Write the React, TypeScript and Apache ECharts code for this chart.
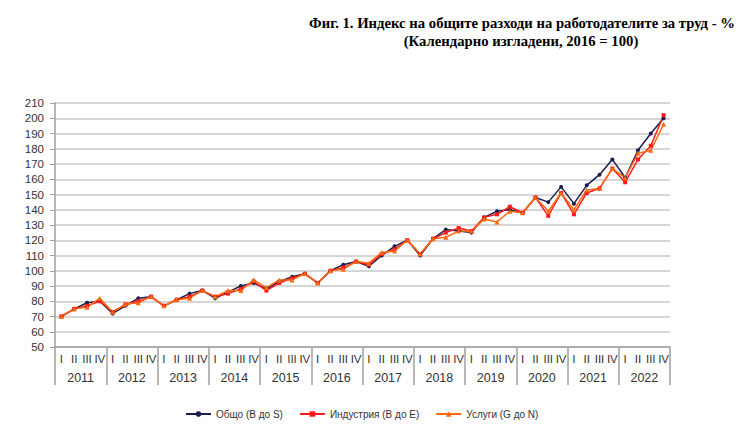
import React, { useEffect, useRef } from "react";
import * as echarts from "echarts";

const years = ["2011", "2012", "2013", "2014", "2015", "2016", "2017", "2018", "2019", "2020", "2021", "2022"];
const quarterNames = ["I", "II", "III", "IV"];
const quarters: string[] = years.flatMap((y) => quarterNames.map((q) => q));

const totalValues = [
  70, 75, 79, 80,
  72, 77, 82, 83,
  77, 81, 85, 87,
  82, 86, 90, 92,
  88, 93, 96, 98,
  92, 100, 104, 106,
  103, 110, 116, 120,
  110, 121, 127, 126,
  125, 135, 139, 140,
  138, 148, 145, 155,
  144, 156, 163, 173,
  161, 179, 190, 200,
];

const industryValues = [
  70, 75, 77, 80,
  73, 78, 80, 83,
  77, 81, 83, 87,
  83, 85, 88, 93,
  87, 92, 95, 98,
  92, 100, 102, 106,
  104, 111, 114, 120,
  111, 121, 125, 128,
  126, 135, 137, 142,
  138, 148, 136, 151,
  137, 151, 154, 167,
  158, 173, 182, 202,
];

const servicesValues = [
  70, 75, 76, 82,
  73, 78, 79, 83,
  77, 81, 82, 87,
  83, 87, 87, 94,
  89, 94, 94, 98,
  92, 100, 101, 106,
  105, 112, 113, 120,
  111, 121, 122, 126,
  126, 134, 132, 139,
  138, 148, 139, 151,
  140, 153, 154, 167,
  161, 177, 179, 196,
];

const seriesNames = ["Общо (B до S)", "Индустрия (B до E)", "Услуги (G до N)"];
const titleLines = [
  "Фиг. 1. Индекс на общите разходи на работодателите за труд - %",
  "(Календарно изгладени, 2016 = 100)",
];

export default function App() {
  const ref = useRef<HTMLDivElement>(null);

  useEffect(() => {
    if (!ref.current) return;
    const chart = echarts.init(ref.current, null, { renderer: "svg" });
    const font = "Liberation Sans, Arial, sans-serif";
    const titleFont = 'bold 14.7px "Liberation Serif", "Times New Roman", serif';
    chart.setOption({
      animation: false,
      backgroundColor: "#ffffff",
      textStyle: { fontFamily: font },
      graphic: [
        {
          type: "text",
          x: 522,
          y: 23,
          style: { text: titleLines[0], align: "center", verticalAlign: "middle", font: titleFont, fill: "#000" },
        },
        {
          type: "text",
          x: 521,
          y: 41,
          style: { text: titleLines[1], align: "center", verticalAlign: "middle", font: titleFont, fill: "#000" },
        },
      ],
      legend: {
        left: 180,
        top: 404,
        itemWidth: 25,
        itemHeight: 7,
        itemGap: 16,
        textStyle: { fontSize: 10, color: "#333", fontFamily: font },
        data: seriesNames,
      },
      grid: { left: 55, right: 70, top: 103, bottom: 80, containLabel: false },
      xAxis: [
        {
          type: "category",
          data: quarters,
          boundaryGap: true,
          axisLine: { show: true, lineStyle: { color: "#a0a0a0", width: 1.5 } },
          axisTick: { show: false },
          axisLabel: { interval: 0, fontSize: 11.5, color: "#333", margin: 6, fontFamily: font },
          splitLine: { show: false },
        },
        {
          type: "category",
          data: years,
          position: "bottom",
          boundaryGap: true,
          axisLine: { show: false },
          axisTick: { show: true, length: 38, lineStyle: { color: "#a0a0a0", width: 1.5 } },
          axisLabel: { interval: 0, fontSize: 12.5, color: "#333", margin: 24, fontFamily: font },
          splitLine: { show: false },
        },
      ],
      yAxis: {
        type: "value",
        min: 50,
        max: 210,
        interval: 10,
        axisLine: { show: true, lineStyle: { color: "#a0a0a0", width: 1.5 } },
        axisTick: { show: true, length: 5, lineStyle: { color: "#a0a0a0" } },
        axisLabel: { fontSize: 11.5, color: "#333", margin: 11, fontFamily: font },
        splitLine: { show: true, lineStyle: { color: "#c8c8c8", width: 1.5 } },
      },
      series: [
        {
          name: seriesNames[0],
          type: "line",
          data: totalValues,
          symbol: "circle",
          symbolSize: 4,
          lineStyle: { color: "#1c1c50", width: 1.5 },
          itemStyle: { color: "#1c1c50" },
        },
        {
          name: seriesNames[1],
          type: "line",
          data: industryValues,
          symbol: "rect",
          symbolSize: 4,
          lineStyle: { color: "#ff1a1a", width: 1.5 },
          itemStyle: { color: "#ff1a1a" },
        },
        {
          name: seriesNames[2],
          type: "line",
          data: servicesValues,
          symbol: "triangle",
          symbolSize: 5,
          lineStyle: { color: "#ff6a10", width: 1.5 },
          itemStyle: { color: "#ff6a10" },
        },
      ],
    });
    return () => chart.dispose();
  }, []);

  return <div ref={ref} style={{ position: "fixed", left: 0, top: 0, width: 740, height: 427 }} />;
}
